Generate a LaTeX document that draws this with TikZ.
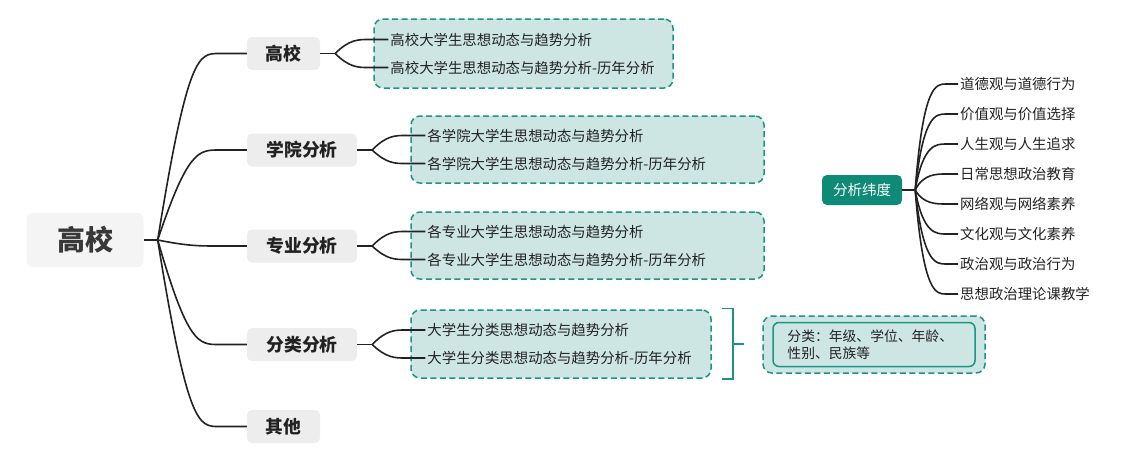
\documentclass[tikz,border=0pt]{standalone}
\usepackage{fontspec}
\setmainfont{Noto Sans CJK SC}
\usetikzlibrary{positioning,calc}

\definecolor{tealline}{HTML}{1B9482}
\definecolor{tealfill}{HTML}{CDE6E3}
\definecolor{tealdark}{HTML}{0F8A77}
\definecolor{topicgray}{HTML}{EDEDED}
\definecolor{rootgray}{HTML}{F4F4F4}
\definecolor{inkdark}{HTML}{222222}

\tikzset{
  rootbox/.style={fill=rootgray, rounded corners=6pt, minimum width=117pt, minimum height=54pt,
    font=\fontsize{28}{30}\selectfont\bfseries, text=inkdark!90},
  topicbox/.style={fill=topicgray, rounded corners=5pt, minimum height=33pt,
    font=\fontsize{17.8}{20}\selectfont\bfseries, text=inkdark},
  groupbox/.style={draw=tealline, fill=tealfill, dash pattern=on 6pt off 3.5pt,
    line width=1.5pt, rounded corners=9pt},
  item/.style={anchor=west, inner sep=2pt, font=\fontsize{14.4}{16}\selectfont, text=inkdark},
  conn/.style={draw=inkdark, line width=1.6pt},
}

\begin{document}
\begin{tikzpicture}[x=1pt,y=-1pt]
\useasboundingbox (0,0) rectangle (1135,464);

% dashed groups with their items
\node[groupbox,minimum width=299pt,minimum height=69pt] (g1) at (523.5,53.5) {};
\node[groupbox,minimum width=353pt,minimum height=67pt] (g2) at (587.5,149.5) {};
\node[groupbox,minimum width=353pt,minimum height=67pt] (g3) at (587.5,245.5) {};
\node[groupbox,minimum width=300pt,minimum height=68pt] (g4) at (561,344) {};

\node[item] (hi-a) at ($(g1.west)+(15,-14)$) {高校大学生思想动态与趋势分析};
\node[item] (hi-b) at ($(g1.west)+(15,14)$) {高校大学生思想动态与趋势分析-历年分析};
\node[item] (col-a) at ($(g2.west)+(15,-14)$) {各学院大学生思想动态与趋势分析};
\node[item] (col-b) at ($(g2.west)+(15,14)$) {各学院大学生思想动态与趋势分析-历年分析};
\node[item] (maj-a) at ($(g3.west)+(15,-14)$) {各专业大学生思想动态与趋势分析};
\node[item] (maj-b) at ($(g3.west)+(15,14)$) {各专业大学生思想动态与趋势分析-历年分析};
\node[item] (cls-a) at ($(g4.west)+(15,-14)$) {大学生分类思想动态与趋势分析};
\node[item] (cls-b) at ($(g4.west)+(15,14)$) {大学生分类思想动态与趋势分析-历年分析};

% main topic and branches
\node[rootbox] (root) at (85,240) {高校};
\node[topicbox,minimum width=73pt] (hi) at (283.5,53.5) {高校};
\node[topicbox,minimum width=110pt] (col) at (302,150) {学院分析};
\node[topicbox,minimum width=110pt] (maj) at (302,246) {专业分析};
\node[topicbox,minimum width=110pt] (cls) at (302,344.5) {分类分析};
\node[topicbox,minimum width=73pt] (oth) at (283.5,426.5) {其他};

\draw[conn] (root.east) -- ++(14,0) coordinate (j0);
\coordinate (j0c) at ($(j0)+(30,0)$);
\foreach \t in {hi,col,maj,cls,oth}
  \draw[conn] (j0) .. controls (j0c |- \t.west) and ($(\t.west)+(-48,0)$) .. ($(\t.west)+(-28,0)$) -- (\t.west);

\foreach \t in {hi,col,maj,cls} {
  \draw[conn] (\t.east) -- ++(15,0) coordinate (fk);
  \foreach \s in {a,b}
    \draw[conn] let \p1=(fk), \p2=(\t-\s.west) in
      (fk) .. controls (\x1+14pt,\y2) and (\x2-30pt,\y2) .. (\x2-20pt,\y2) -- (\t-\s.west);
}

% bracket and summary
\draw[tealline,line width=1.5pt] ($(g4.north east)+(10,-1)$) -- ++(11,0)
  -- ($(g4.south east)+(21,0)$) -- ++(-11,0);
\draw[tealline,line width=1.5pt] ($(g4.east)+(21,0)$) -- ++(11,0);

\node[groupbox,minimum width=222pt,minimum height=57pt] (sumout) at (874,344.5) {};
\node[draw=tealline,fill=tealfill,line width=1.5pt,rounded corners=6pt,
  minimum width=202pt,minimum height=44pt] (sumin) at (sumout) {};
\node[anchor=west,align=left,inner sep=0pt,font=\fontsize{13.8}{17}\selectfont,text=inkdark]
  (sumtxt) at ($(sumin.west)+(15,0)$) {分类：年级、学位、年龄、\\性别、民族等};

% analysis dimensions
\node[fill=tealdark,rounded corners=5pt,minimum width=80pt,minimum height=30pt,
  text=white,font=\fontsize{14.5}{16}\selectfont] (dim) at (862,190) {分析纬度};

\foreach \txt [count=\i] in {道德观与道德行为,价值观与价值选择,人生观与人生追求,日常思想政治教育,
    网络观与网络素养,文化观与文化素养,政治观与政治行为,思想政治理论课教学}
  \node[item] (d\i) at (958,54+30*\i) {\txt};

\draw[conn] (dim.east) -- ++(13,0) coordinate (dj);
\foreach \i in {1,...,8}
  \draw[conn] let \p1=(dj), \p2=(d\i.west) in
    (dj) .. controls (\x1+8pt,\y2) and (\x2-22pt,\y2) .. (\x2-12pt,\y2) -- (d\i.west);
\end{tikzpicture}
\end{document}
